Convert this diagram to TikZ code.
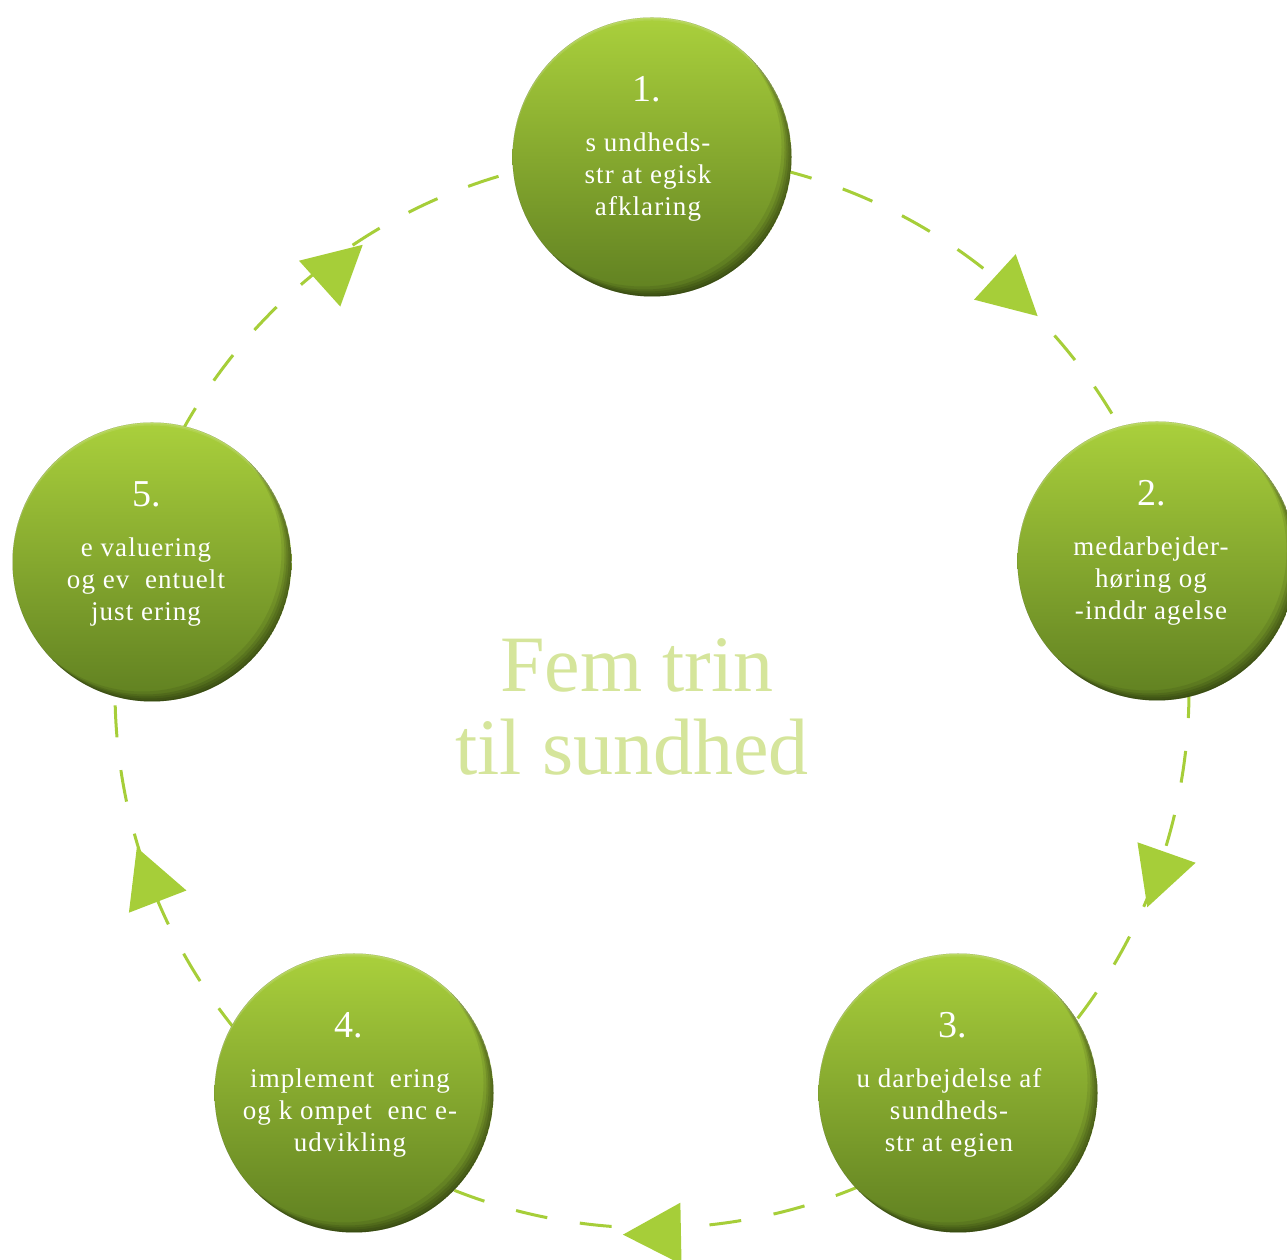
\documentclass[tikz,border=0pt]{standalone}
\usepackage{fontspec}
\setmainfont{Liberation Serif}
\newfontfamily\ballfont[LetterSpace=4]{Liberation Serif}
\usetikzlibrary{shapes.geometric,calc}
\definecolor{balltop}{RGB}{170,208,60}
\definecolor{ballbot}{RGB}{96,128,33}
\definecolor{dashgreen}{RGB}{166,206,57}
\definecolor{titlegreen}{RGB}{213,229,155}
\tikzset{
  ball/.style={circle, minimum size=279pt, inner sep=0pt, draw=none,
    top color=balltop, bottom color=ballbot},
  ballnum/.style={text=white, font=\fontsize{38}{38}\selectfont, anchor=base, inner sep=0pt},
  balltext/.style={text=white, font=\ballfont\fontsize{27}{32}\selectfont, align=center, inner sep=0pt},
  dashline/.style={draw=dashgreen, line width=3pt, dash pattern=on 32pt off 33pt},
  arrowtri/.style={isosceles triangle, isosceles triangle apex angle=56,
    minimum height=58pt, inner sep=0pt, fill=dashgreen, draw=none},
  titletext/.style={text=titlegreen, font=\fontsize{80}{84}\selectfont, anchor=base, inner sep=0pt}
}
\newcommand\ballfx[1]{%
  \begin{scope}
    \clip (#1.center) circle[radius=139.5];
    \foreach \sh/\op in {1/0.10,3/0.10,5/0.10,7/0.10,10/0.08} {
      \fill[black, opacity=\op, even odd rule] (#1.center) circle[radius=139.5]
        ([shift={(-\sh,\sh)}]#1.center) circle[radius=139.5];
    }
    \foreach \sh/\op in {1.5/0.12,3/0.10} {
      \fill[white, opacity=\op, even odd rule] (#1.center) circle[radius=139.5]
        ([shift={(0,-\sh)}]#1.center) circle[radius=139.5];
    }
  \end{scope}}
\begin{document}
\begin{tikzpicture}[x=1pt,y=1pt]
\useasboundingbox (0,0) rectangle (1287,1260);
\coordinate (C) at (652,569);
% connectors (dashed arcs of the cycle), drawn beneath the steps
\draw[dashline] ([shift={(90:537)}]C) arc[start angle=90, end angle=14.4, radius=537];
\draw[dashline] ([shift={(14.4:537)}]C) arc[start angle=14.4, end angle=-52.7, radius=537];
\draw[dashline] ([shift={(-52.7:537)}]C) arc[start angle=-52.7, end angle=-126.5, radius=537];
\draw[dashline] ([shift={(-126.5:537)}]C) arc[start angle=-126.5, end angle=-194.5, radius=537];
\draw[dashline] ([shift={(165.5:537)}]C) arc[start angle=165.5, end angle=90, radius=537];
% arrow heads
\node[arrowtri, rotate=42] (t1) at ($(C)+(127.2:527)$) {};
\node[arrowtri, rotate=-42.5] (t2) at ($(C)+(48.4:537)$) {};
\node[arrowtri, rotate=-109.4] (t3) at ($(C)+(-19.4:539)$) {};
\node[arrowtri, rotate=-178.9] (t4) at ($(C)+(-88.9:543)$) {};
\node[arrowtri, rotate=111.1] (t5) at ($(C)+(201.1:537)$) {};
% steps
\node[ball] (n1) at (652,1103) {};
\node[ball] (n2) at (1157,699) {};
\node[ball] (n3) at (958,167) {};
\node[ball] (n4) at (354,167) {};
\node[ball] (n5) at (152,698) {};
\ballfx{n1}\ballfx{n2}\ballfx{n3}\ballfx{n4}\ballfx{n5}
% numbers
\node[ballnum] (k1) at ($(n1)+(-5,55)$) {1.};
\node[ballnum] (k2) at ($(n2)+(-5,55)$) {2.};
\node[ballnum] (k3) at ($(n3)+(-5,55)$) {3.};
\node[ballnum] (k4) at ($(n4)+(-5,55)$) {4.};
\node[ballnum] (k5) at ($(n5)+(-5,55)$) {5.};
% texts
\node[balltext] (s1) at ($(n1)+(-4,-20)$) {s undheds-\\str at egisk\\afklaring};
\node[balltext] (s2) at ($(n2)+(-6,-20)$) {medarbejder-\\høring og\\-inddr agelse};
\node[balltext] (s3) at ($(n3)+(-9,-20)$) {u darbejdelse af\\sundheds-\\str at egien};
\node[balltext] (s4) at ($(n4)+(-4,-20)$) {implement\ \ ering\\og k ompet\ \ enc e-\\udvikling};
\node[balltext] (s5) at ($(n5)+(-6,-20)$) {e valuering\\og ev\ \ entuelt\\just ering};
% title
\node[titletext] (h1) at (637,568) {Fem trin};
\node[titletext] (h2) at (632,485) {til sundhed};
\end{tikzpicture}
\end{document}
